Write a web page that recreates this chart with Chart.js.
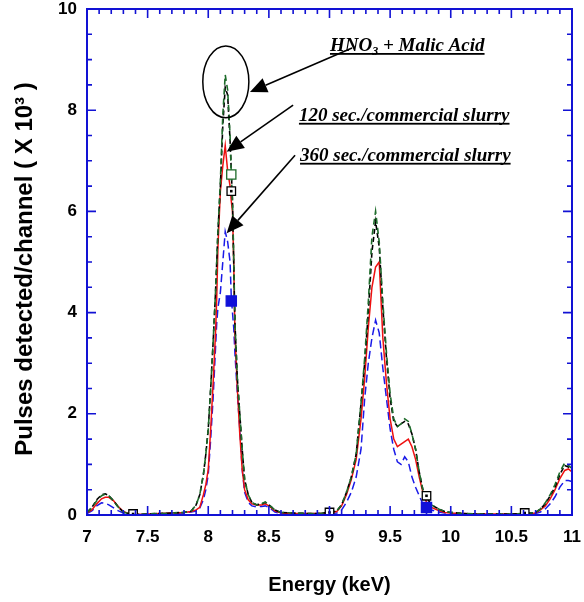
<!DOCTYPE html>
<html>
<head>
<meta charset="utf-8">
<script src="https://cdn.jsdelivr.net/npm/chart.js@4/dist/chart.umd.min.js"></script>
<style>
html,body{margin:0;padding:0;background:#fff;}
#wrap{width:584px;height:602px;position:relative;}
</style>
</head>
<body>
<div id="wrap"><canvas id="c" width="584" height="602"></canvas></div>
<script>
// ---- data (energy in keV, counts in thousands) ----
const energy = [7.00,7.04,7.08,7.12,7.15,7.18,7.22,7.26,7.30,7.35,7.40,7.50,7.60,7.70,7.80,7.86,
  7.90,7.93,7.96,7.98,8.00,8.02,8.04,8.06,8.07,8.08,8.10,8.12,8.14,8.16,8.18,8.19,8.20,8.21,8.22,8.24,8.26,8.28,8.30,8.33,8.36,8.40,8.44,8.47,8.50,8.55,8.60,
  8.70,8.80,8.90,9.00,
  9.06,9.10,9.14,9.18,9.22,9.26,9.29,9.32,9.35,9.38,9.41,9.44,9.47,9.50,9.53,9.56,9.59,9.62,9.65,9.68,9.71,9.74,9.77,9.80,9.84,9.90,9.95,10.00,
  10.10,10.20,10.30,10.40,10.50,10.60,10.70,
  10.74,10.78,10.82,10.86,10.90,10.94,10.97,11.00];

const hno3Black = [0.05,0.15,0.30,0.40,0.42,0.38,0.28,0.15,0.06,0.02,0.01,0.02,0.03,0.04,0.05,0.08,
  0.20,0.40,0.80,1.20,1.70,2.50,3.40,4.40,5.00,5.60,6.50,7.70,8.45,8.30,7.40,6.80,6.20,5.00,3.80,2.70,2.00,1.30,0.70,0.40,0.25,0.20,0.22,0.25,0.20,0.10,0.05,
  0.04,0.03,0.03,0.05,
  0.08,0.20,0.45,0.75,1.20,2.20,3.00,4.00,5.20,5.80,5.30,4.10,3.10,2.30,1.85,1.75,1.80,1.85,1.80,1.60,1.30,0.85,0.50,0.35,0.20,0.12,0.07,0.05,
  0.03,0.02,0.02,0.02,0.02,0.03,0.05,
  0.12,0.22,0.38,0.55,0.80,0.98,0.95,0.90];

const hno3Green = [0.05,0.14,0.28,0.38,0.41,0.38,0.27,0.15,0.06,0.02,0.01,0.02,0.03,0.04,0.05,0.08,
  0.20,0.40,0.80,1.20,1.70,2.50,3.40,4.40,5.00,5.60,6.60,7.90,8.70,8.40,7.50,6.73,6.20,5.10,3.80,2.70,2.00,1.30,0.70,0.40,0.25,0.20,0.22,0.26,0.20,0.10,0.05,
  0.04,0.03,0.03,0.05,
  0.08,0.20,0.45,0.75,1.20,2.20,3.10,4.20,5.50,6.00,5.40,4.20,3.20,2.40,1.90,1.75,1.80,1.90,1.85,1.60,1.30,0.85,0.50,0.35,0.20,0.12,0.07,0.05,
  0.03,0.02,0.02,0.02,0.02,0.03,0.05,
  0.12,0.24,0.40,0.60,0.85,1.03,0.98,0.92];

const slurry120 = [0.04,0.10,0.22,0.32,0.35,0.35,0.28,0.16,0.07,0.02,0.01,0.02,0.03,0.04,0.05,0.07,
  0.10,0.15,0.40,0.60,0.90,1.70,2.60,3.60,4.30,5.30,6.40,6.90,7.30,6.80,6.50,6.20,6.00,5.00,3.60,2.50,1.60,0.90,0.50,0.30,0.22,0.20,0.20,0.22,0.18,0.08,0.04,
  0.03,0.03,0.03,0.04,
  0.07,0.18,0.40,0.70,1.10,1.90,2.70,3.70,4.50,4.90,5.00,3.50,2.60,1.90,1.50,1.35,1.40,1.45,1.50,1.35,1.10,0.75,0.45,0.25,0.15,0.09,0.05,0.04,
  0.03,0.02,0.02,0.02,0.02,0.02,0.04,
  0.10,0.18,0.32,0.50,0.72,0.88,0.91,0.85];

const slurry360 = [0.03,0.08,0.18,0.24,0.23,0.20,0.14,0.08,0.04,0.01,0.00,0.01,0.02,0.03,0.04,0.06,
  0.08,0.14,0.30,0.50,0.80,1.50,2.30,3.30,3.80,4.10,4.40,5.00,5.60,5.40,5.00,4.30,4.00,3.70,3.20,2.40,1.70,0.90,0.45,0.25,0.18,0.16,0.17,0.18,0.15,0.06,0.03,
  0.02,0.02,0.02,0.03,
  0.04,0.10,0.25,0.45,0.75,1.30,2.30,3.00,3.50,3.85,3.60,2.90,2.30,1.70,1.30,1.05,1.00,1.15,1.05,0.75,0.55,0.38,0.22,0.15,0.10,0.06,0.04,0.03,
  0.02,0.01,0.01,0.01,0.01,0.02,0.03,
  0.06,0.12,0.22,0.36,0.55,0.68,0.68,0.66];

// sparse plot markers
const blackMarkE = [7.38, 8.19, 9.00, 9.80, 10.61];
const blackMarkV = [0.02, 6.40, 0.05, 0.38, 0.04];
const greenMarkE = [8.19];
const greenMarkV = [6.73];
const blueMarkE  = [8.19, 9.80];
const blueMarkV  = [4.23, 0.15];

// tick definitions
const xTickStep = 0.5, xMinorStep = 0.1;
const yTickStep = 2, yMinorStep = 0.5;

// texts
const xTitle = 'Energy (keV)';
const yTitle = 'Pulses detected/channel ( X 10³ )';

// annotation anchors (data units)
const labelHNO3 = {e: 9.004, v: 9.17};
const label120  = {e: 8.748, v: 7.79};
const label360  = {e: 8.757, v: 7.00};
const ellipseAnno = {e: 8.145, v: 8.56, re: 0.19, rv: 0.71};
const arrows = [
  {from:{e:9.186, v:9.23}, to:{e:8.344, v:8.36}},
  {from:{e:8.700, v:8.10}, to:{e:8.152, v:7.18}},
  {from:{e:8.716, v:7.11}, to:{e:8.152, v:5.57}}
];

const pts = (xs, ys) => xs.map((x, i) => ({x, y: ys[i]}));

const BLUE_AX = '#1212d4';
const SANS = '"Liberation Sans", Arial, sans-serif';

const framePlugin = {
  id: 'frame',
  afterDraw(chart) {
    const {ctx, chartArea: a, scales: {x, y}} = chart;
    ctx.save();
    // y-axis title
    ctx.save();
    ctx.translate(25, (a.top + a.bottom) / 2 + 7);
    ctx.rotate(-Math.PI / 2);
    ctx.font = 'bold 24px ' + SANS;
    ctx.fillStyle = '#000'; ctx.textAlign = 'center'; ctx.textBaseline = 'middle';
    ctx.fillText(yTitle, 0, 0);
    ctx.restore();
    // annotations
    ctx.strokeStyle = '#000'; ctx.fillStyle = '#000'; ctx.lineWidth = 1.5;
    const ex = x.getPixelForValue(ellipseAnno.e), ey = y.getPixelForValue(ellipseAnno.v);
    const erx = x.getPixelForValue(ellipseAnno.e + ellipseAnno.re) - ex;
    const ery = ey - y.getPixelForValue(ellipseAnno.v + ellipseAnno.rv);
    ctx.beginPath(); ctx.ellipse(ex, ey, erx, ery, 0, 0, Math.PI * 2); ctx.stroke();
    arrows.forEach(ar => {
      const x1 = x.getPixelForValue(ar.from.e), y1 = y.getPixelForValue(ar.from.v);
      const x2 = x.getPixelForValue(ar.to.e), y2 = y.getPixelForValue(ar.to.v);
      const ang = Math.atan2(y2 - y1, x2 - x1);
      const L = 17, W = 7.5;
      const bx = x2 - L * Math.cos(ang), by = y2 - L * Math.sin(ang);
      ctx.beginPath(); ctx.moveTo(x1, y1); ctx.lineTo(bx, by); ctx.lineWidth = 1.6; ctx.stroke();
      ctx.beginPath();
      ctx.moveTo(x2, y2);
      ctx.lineTo(bx + W * Math.sin(ang), by - W * Math.cos(ang));
      ctx.lineTo(bx - W * Math.sin(ang), by + W * Math.cos(ang));
      ctx.closePath(); ctx.fill();
    });
    // labels
    const fontMain = 'italic bold 19px "Liberation Serif", "Times New Roman", serif';
    const fontSub = 'italic bold 12px "Liberation Serif", "Times New Roman", serif';
    ctx.textBaseline = 'alphabetic'; ctx.textAlign = 'left';
    function underline(x0, x1, yb) { ctx.fillRect(x0, yb + 2, x1 - x0, 1.8); }
    {
      let px = x.getPixelForValue(labelHNO3.e), py = y.getPixelForValue(labelHNO3.v);
      const start = px;
      ctx.font = fontMain; ctx.fillText('HNO', px, py); px += ctx.measureText('HNO').width;
      ctx.font = fontSub; ctx.fillText('3', px, py + 4); px += ctx.measureText('3').width;
      ctx.font = fontMain; ctx.fillText(' + Malic Acid', px, py); px += ctx.measureText(' + Malic Acid').width;
      underline(start, px, py);
    }
    [[label120, '120 sec./commercial slurry'], [label360, '360 sec./commercial slurry']].forEach(([lb, t]) => {
      const px = x.getPixelForValue(lb.e), py = y.getPixelForValue(lb.v);
      ctx.font = fontMain; ctx.fillText(t, px, py);
      underline(px, px + ctx.measureText(t).width, py);
    });
    // frame + inward ticks
    ctx.strokeStyle = BLUE_AX; ctx.lineWidth = 2;
    ctx.strokeRect(a.left, a.top, a.right - a.left, a.bottom - a.top);
    ctx.lineWidth = 1.6;
    ctx.beginPath();
    const nx = Math.round((x.max - x.min) / xMinorStep);
    for (let i = 0; i <= nx; i++) {
      const v = x.min + i * xMinorStep;
      const px = x.getPixelForValue(v);
      const major = Math.abs(v / xTickStep - Math.round(v / xTickStep)) < 1e-6;
      const L = major ? 9 : 5;
      ctx.moveTo(px, a.bottom); ctx.lineTo(px, a.bottom - L);
      ctx.moveTo(px, a.top); ctx.lineTo(px, a.top + L);
    }
    const ny = Math.round((y.max - y.min) / yMinorStep);
    for (let i = 0; i <= ny; i++) {
      const v = y.min + i * yMinorStep;
      const py = y.getPixelForValue(v);
      const major = Math.abs(v / yTickStep - Math.round(v / yTickStep)) < 1e-6;
      const L = major ? 9 : 5;
      ctx.moveTo(a.left, py); ctx.lineTo(a.left + L, py);
      ctx.moveTo(a.right, py); ctx.lineTo(a.right - L, py);
    }
    ctx.stroke();
    ctx.restore();
  }
};

const lineDs = (label, ys, color, dash, order, width) => ({
  type: 'line', label, data: pts(energy, ys), borderColor: color, borderWidth: width,
  borderDash: dash, pointRadius: 0, tension: 0, fill: false, order
});
const markDs = (label, xs, ys, border, bg, r, order) => ({
  type: 'scatter', label, data: pts(xs, ys), pointStyle: 'rect', pointRadius: r,
  borderColor: border, backgroundColor: bg, borderWidth: 1.3, order
});

new Chart(document.getElementById('c'), {
  type: 'line',
  data: {
    datasets: [
      markDs('dot', blackMarkE, blackMarkV, '#000', '#000', 0.9, 0),
      markDs('black markers', blackMarkE, blackMarkV, '#000', '#fff', 6, 1),
      markDs('green markers', greenMarkE, greenMarkV, '#1d6b2a', '#fff', 6.5, 2),
      markDs('blue markers', blueMarkE, blueMarkV, '#1010d8', '#1010d8', 7.2, 1),
      lineDs('HNO3 + Malic Acid (green)', hno3Green, '#1d6b2a', [6, 4], 3, 1.6),
      lineDs('HNO3 + Malic Acid (black)', hno3Black, '#000000', [5, 3], 4, 1.6),
      lineDs('120 sec./commercial slurry', slurry120, '#ee1010', [], 5, 1.5),
      lineDs('360 sec./commercial slurry', slurry360, '#1a1ae8', [8, 4], 6, 1.5)
    ]
  },
  options: {
    responsive: false,
    animation: false,
    events: [],
    layout: {padding: {top: 9, right: 12, left: 0, bottom: 0}},
    plugins: {legend: {display: false}, tooltip: {enabled: false}},
    scales: {
      x: {
        type: 'linear', min: 7, max: 11,
        grid: {display: false, drawTicks: false},
        border: {display: false},
        ticks: {stepSize: xTickStep, padding: 12, color: '#000',
          callback: v => String(Number(v.toFixed(2))),
          font: {family: SANS, weight: 'bold', size: 17}},
        title: {display: true, text: xTitle, color: '#000', padding: {top: 0, bottom: 5},
          font: {family: SANS, weight: 'bold', size: 20}},
        afterFit(s) { s.height = 87; s.paddingLeft = 0; s.paddingRight = 0; }
      },
      y: {
        type: 'linear', min: 0, max: 10,
        grid: {display: false, drawTicks: false},
        border: {display: false},
        ticks: {stepSize: yTickStep, padding: 10, color: '#000',
          font: {family: SANS, weight: 'bold', size: 17}},
        afterFit(s) { s.width = 87; s.paddingTop = 0; s.paddingBottom = 0; }
      }
    }
  },
  plugins: [framePlugin]
});
</script>
</body>
</html>
